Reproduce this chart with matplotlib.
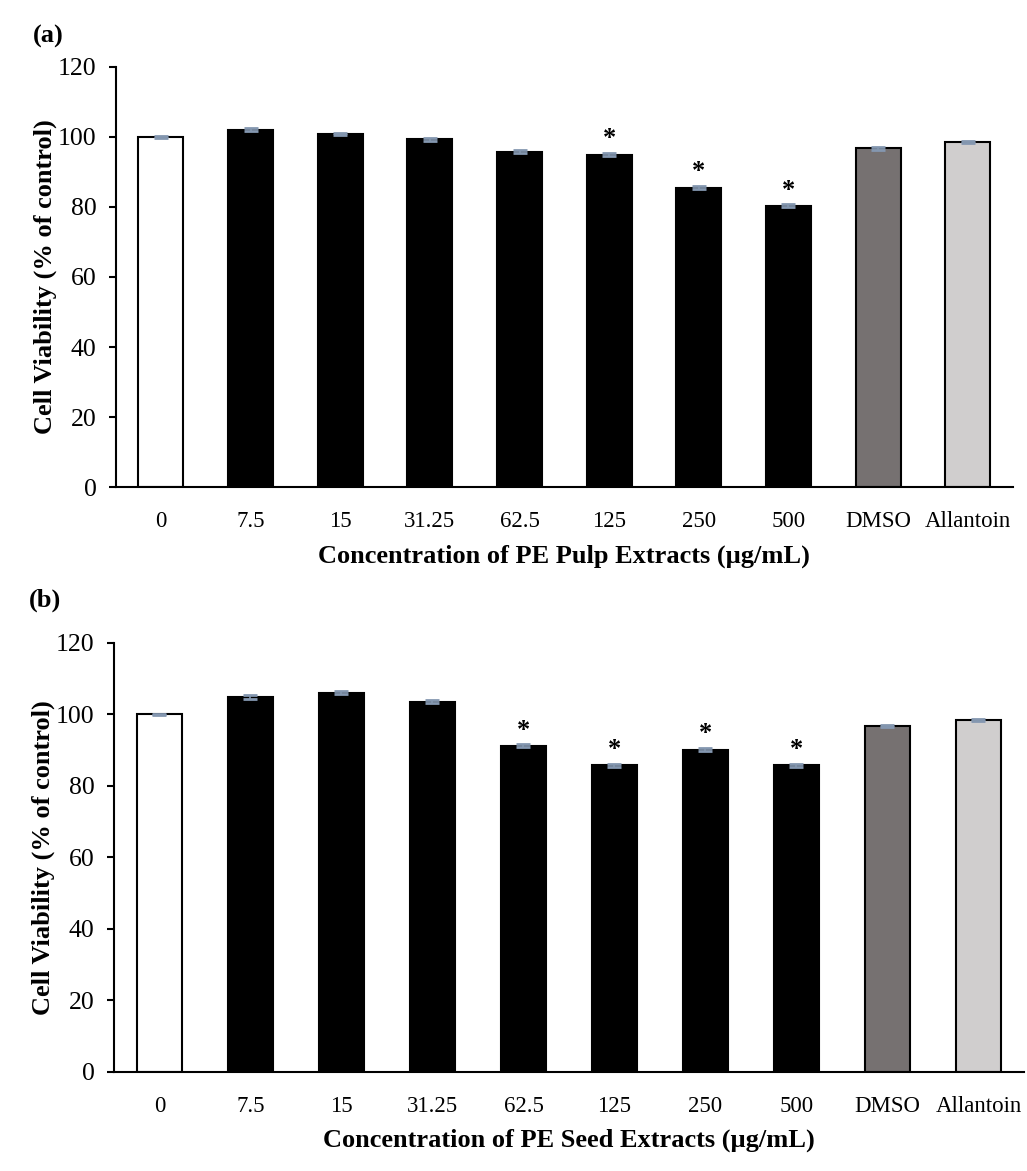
import matplotlib
matplotlib.use("Agg")
import matplotlib.pyplot as plt
import numpy as np

plt.rcParams["font.family"] = ["Liberation Serif", "DejaVu Serif"]

categories = ["0", "7.5", "15", "31.25", "62.5", "125", "250", "500", "DMSO", "Allantoin"]
pulp = [100.0, 102.0, 100.8, 99.3, 95.8, 94.9, 85.5, 80.3, 96.7, 98.5]
pulp_err = [0.3, 0.4, 0.4, 0.4, 0.3, 0.4, 0.4, 0.4, 0.4, 0.3]
pulp_sig = [False, False, False, False, False, True, True, True, False, False]
seed = [100.0, 104.8, 106.1, 103.6, 91.2, 85.8, 90.1, 85.8, 96.8, 98.4]
seed_err = [0.2, 0.5, 0.4, 0.4, 0.4, 0.4, 0.4, 0.4, 0.3, 0.2]
seed_sig = [False, False, False, False, True, True, True, True, False, False]

colors = ["white"] + ["black"] * 7 + ["#767171", "#d0cece"]

fig = plt.figure(figsize=(10.27, 11.71), dpi=100)
ax_a = fig.add_axes([0.113, 0.584, 0.873, 0.359])
ax_b = fig.add_axes([0.111, 0.0846, 0.886, 0.3664])


def draw(ax, vals, errs, sig, xlabel, tag, tag_y):
    x = np.arange(len(categories))
    ax.bar(x, vals, width=0.5, color=colors, edgecolor="black", linewidth=1.5, zorder=2)
    ax.errorbar(x, vals, yerr=errs, fmt="none", ecolor="#8497b0", elinewidth=1.2,
                capsize=5, capthick=2, zorder=3)
    for xi, v, s in zip(x, vals, sig):
        if s:
            ax.text(xi, v + 1.2, "*", ha="center", va="bottom", fontsize=19, fontweight="bold")
    ax.set_xlim(-0.5, len(categories) - 0.5)
    ax.set_ylim(0, 120)
    ax.set_yticks(np.arange(0, 121, 20))
    ax.set_xticks(x)
    ax.set_xticklabels(categories)
    ax.tick_params(axis="x", length=0, labelsize=16.5, pad=17)
    ax.tick_params(axis="y", length=5, width=1.5, labelsize=18.5, pad=9)
    for s in ["top", "right"]:
        ax.spines[s].set_visible(False)
    ax.spines["left"].set_linewidth(1.5)
    ax.spines["bottom"].set_linewidth(1.5)
    ax.set_ylabel("Cell Viability (% of control)", fontsize=19, fontweight="bold", labelpad=1)
    ax.set_xlabel(xlabel, fontsize=19, fontweight="bold", labelpad=9)
    ax.text(-0.093, tag_y, tag, transform=ax.transAxes, fontsize=19, fontweight="bold",
            ha="left", va="center")


draw(ax_a, pulp, pulp_err, pulp_sig, "Concentration of PE Pulp Extracts (\u00b5g/mL)", "(a)", 1.072)
draw(ax_b, seed, seed_err, seed_sig, "Concentration of PE Seed Extracts (\u00b5g/mL)", "(b)", 1.1)

fig.savefig("out.png", dpi=100)
